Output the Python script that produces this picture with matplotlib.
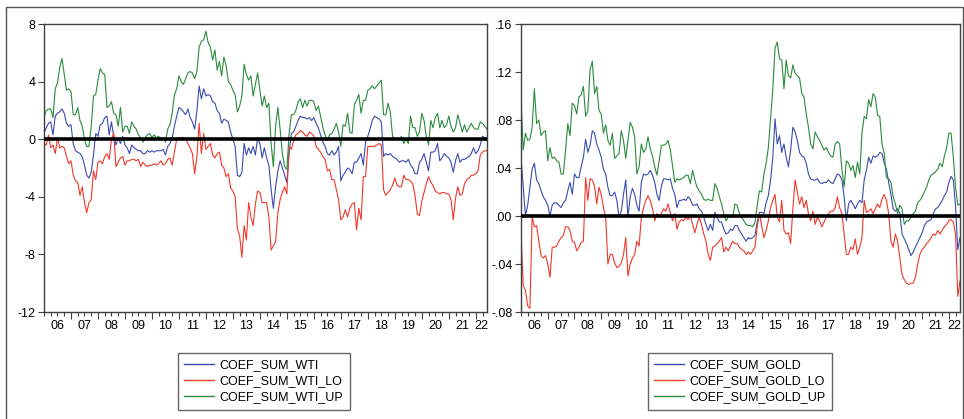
import numpy as np
import matplotlib
matplotlib.use("Agg")
from matplotlib import pyplot as plt
from matplotlib.lines import Line2D
from matplotlib.patches import Rectangle

plt.rcParams['font.family'] = ['Liberation Sans', 'DejaVu Sans']

start_year = 2006
year_labels = ["06", "07", "08", "09", "10", "11", "12", "13", "14",
               "15", "16", "17", "18", "19", "20", "21", "22"]

# monthly, 2006M01 - 2022M06
coef_sum_wti = (
    [0.4, 0.8, 1.1, 1.2, 0.3, 1.6, 1.8, 1.9, 2.1, 1.8, 1.1, 0.9] +
    [1.0, -0.3, -0.8, -0.9, -1.0, -1.2, -1.8, -2.5, -2.7, -2.3, -1.1, 0.4] +
    [0.2, 1.0, 1.1, 1.5, 1.6, 0.3, 1.2, 0.2, -0.4, 0.1, -0.3, 0.2] +
    [-0.4, -0.6, -1.0, -0.4, -0.6, -0.7, -0.8, -0.8, -1.0, -1.0, -0.8, -0.9] +
    [-0.8, -0.9, -0.8, -0.8, -0.8, -0.7, -1.1, -0.5, -0.3, 0.1, 0.9, 1.6] +
    [2.2, 2.1, 1.9, 1.7, 2.1, 1.5, 1.2, 0.7, 2.0, 3.7, 2.8, 3.5] +
    [3.0, 3.1, 3.0, 2.6, 2.5, 2.0, 1.8, 1.1, 1.4, 1.3, 1.2, 0.5] +
    [0.0, -0.5, -2.5, -2.6, -2.3, -0.3, -1.1, -0.6, -1.0, -0.5, -1.1, 0.1] +
    [-0.3, -1.3, -0.6, -1.3, -1.8, -3.5, -4.8, -3.3, -2.2, -1.5, -2.0, -2.5] +
    [-3.0, -1.0, 0.4, 0.5, 0.9, 1.3, 1.6, 1.5, 1.5, 1.4, 1.5, 1.3] +
    [1.5, 1.1, 0.8, 0.3, -0.2, -0.5, -1.0, -1.1, -0.8, -1.1, -0.9, -0.5] +
    [-2.9, -2.5, -2.3, -2.0, -2.1, -2.4, -1.6, -1.6, -1.3, -1.0, -1.8, -0.2] +
    [0.2, 0.7, 1.3, 1.6, 1.5, 1.4, 1.2, -1.2, -1.0, -1.1, -1.0, -1.2] +
    [-1.3, -1.4, -1.6, -1.5, -1.5, -1.6, -1.4, -1.8, -2.0, -2.4, -2.4, -1.6] +
    [-1.4, -1.0, -1.6, -2.2, -0.9, -0.9, -0.8, -0.3, -1.5, -1.3, -1.0, -1.2] +
    [-1.3, -1.6, -2.3, -1.5, -1.0, -1.6, -1.4, -1.4, -1.3, -1.2, -1.0, -0.6] +
    [-1.0, -0.8, -0.4, 0.2, 0.1, -0.1]
)

coef_sum_wti_lo = (
    [-0.3, -0.4, 0.3, -0.6, -0.4, -1.0, 0.1, -0.6, -0.5, -0.6, -1.2, -1.7] +
    [-1.5, -2.5, -2.9, -3.0, -3.9, -3.3, -4.4, -5.1, -4.4, -4.2, -2.2, -2.8] +
    [-1.6, -1.5, -1.7, -1.2, -1.0, -1.4, 0.0, 0.4, -1.9, -1.6, -1.3, -1.2] +
    [-1.8, -1.5, -1.5, -1.4, -1.4, -1.5, -1.4, -1.9, -1.6, -1.8, -1.9, -1.8] +
    [-1.8, -1.7, -1.8, -1.7, -1.5, -1.8, -1.7, -1.4, -1.3, -1.8, -0.9, 0.0] +
    [0.1, 0.1, 0.1, 0.0, -0.3, -0.6, -1.0, -2.4, -1.2, 1.1, -1.0, 0.4] +
    [-0.7, -0.5, -0.3, -1.1, -1.3, -1.0, -0.9, -1.8, -2.0, -2.6, -2.4, -3.4] +
    [-3.6, -4.0, -6.2, -6.7, -8.2, -6.0, -7.0, -4.4, -5.4, -6.0, -4.5, -3.6] +
    [-3.7, -4.4, -4.4, -4.4, -5.4, -7.7, -7.4, -7.1, -5.1, -4.2, -3.7, -3.3] +
    [-3.8, -0.5, -0.7, -0.1, 0.3, 0.4, 0.6, 0.5, 0.3, 0.2, 0.5, 0.4] +
    [0.2, -0.5, -0.7, -0.9, -1.2, -1.4, -2.2, -2.1, -2.8, -2.8, -3.5, -4.2] +
    [-5.6, -5.4, -4.9, -5.4, -4.8, -4.5, -4.4, -6.3, -4.8, -5.6, -2.6, -2.6] +
    [-0.5, -0.5, -0.5, -0.5, -0.4, -0.3, -0.4, -3.5, -3.9, -3.7, -3.5, -3.2] +
    [-2.7, -3.2, -3.3, -3.3, -2.5, -2.8, -2.8, -2.9, -3.1, -3.9, -5.2, -5.3] +
    [-4.3, -3.7, -3.1, -2.6, -3.0, -3.2, -3.6, -3.7, -3.8, -3.7, -3.7, -3.8] +
    [-3.8, -4.2, -5.6, -4.1, -3.3, -3.9, -3.8, -3.1, -2.8, -2.7, -2.5, -2.5] +
    [-2.4, -2.2, -1.1, -0.9, -0.8, -0.8]
)

coef_sum_wti_up = (
    [1.5, 2.0, 2.1, 2.1, 1.5, 3.5, 3.9, 5.0, 5.6, 4.5, 3.4, 3.5] +
    [3.3, 1.7, 1.7, 2.2, 1.3, 0.9, 0.0, -0.5, -0.5, 0.9, 3.0, 3.1] +
    [4.1, 4.9, 4.6, 4.5, 2.2, 2.3, 2.6, 1.8, 1.7, 0.9, 2.2, 0.5] +
    [0.9, 0.9, 0.4, 1.2, 0.9, 0.7, 0.3, 0.1, -0.2, 0.1, 0.3, 0.4] +
    [0.1, 0.3, 0.1, 0.2, 0.0, 0.1, -0.2, 0.7, 1.0, 1.8, 3.1, 3.5] +
    [4.4, 4.0, 3.8, 4.2, 4.6, 4.7, 4.6, 4.2, 4.7, 6.4, 6.8, 6.9] +
    [7.5, 6.7, 6.4, 5.5, 6.2, 4.8, 5.4, 4.4, 5.7, 5.1, 4.0, 3.8] +
    [3.4, 3.1, 1.9, 2.3, 3.0, 5.2, 4.5, 4.1, 4.4, 3.0, 3.8, 4.6] +
    [3.4, 2.3, 3.0, 2.2, 2.5, -0.3, -1.9, 0.9, 2.2, 0.7, -1.0, -1.9] +
    [-2.1, 0.4, 1.7, 1.7, 2.0, 2.6, 2.8, 2.2, 2.7, 2.3, 2.7, 2.7] +
    [2.6, 2.0, 2.3, 1.6, 0.8, 0.3, -0.1, 0.3, 0.4, 0.7, 1.1, 0.5] +
    [-0.5, 1.0, 0.9, 1.8, 0.5, 0.4, 2.4, 2.7, 3.1, 1.8, 2.7, 2.7] +
    [3.4, 3.5, 3.7, 3.5, 3.7, 3.9, 4.1, 1.7, 1.7, 2.5, 1.9, 0.2] +
    [0.0, 0.0, 0.0, 0.2, -0.3, 0.0, -0.3, 1.6, 0.8, 0.8, 0.2, 0.5] +
    [1.8, 1.3, 0.2, -0.4, 1.3, 0.8, 1.5, 1.8, 0.8, 1.3, 0.8, 1.0] +
    [1.6, 0.9, 0.5, 0.8, 1.7, 1.1, 0.5, 1.0, 0.5, 0.8, 1.1, 0.8] +
    [0.7, 0.7, 1.2, 1.1, 0.9, 0.7]
)

coef_sum_gold = (
    [0.049, 0.024, 0.000, 0.009, 0.024, 0.039, 0.044, 0.030, 0.027, 0.021, 0.016, 0.013] +
    [0.009, 0.000, 0.009, 0.011, 0.011, 0.009, 0.007, 0.011, 0.013, 0.021, 0.028, 0.018] +
    [0.035, 0.032, 0.032, 0.041, 0.049, 0.064, 0.053, 0.059, 0.071, 0.069, 0.060, 0.055] +
    [0.049, 0.039, 0.035, 0.024, 0.017, 0.017, 0.020, 0.013, -0.001, 0.004, 0.018, 0.030] +
    [-0.001, 0.016, 0.023, 0.018, 0.009, 0.004, 0.028, 0.035, 0.034, 0.035, 0.038, 0.034] +
    [0.028, 0.018, 0.013, 0.025, 0.031, 0.031, 0.030, 0.031, 0.023, 0.018, 0.007, 0.013] +
    [0.013, 0.014, 0.013, 0.016, 0.014, 0.009, 0.009, 0.010, 0.006, 0.004, -0.001, -0.007] +
    [-0.012, -0.007, -0.012, 0.003, -0.001, -0.005, -0.005, -0.011, -0.015, -0.014, -0.011, -0.012] +
    [-0.008, -0.008, -0.012, -0.015, -0.018, -0.021, -0.018, -0.019, -0.018, -0.016, -0.005, 0.003] +
    [0.003, 0.002, 0.011, 0.017, 0.030, 0.049, 0.081, 0.060, 0.067, 0.053, 0.060, 0.049] +
    [0.041, 0.055, 0.074, 0.070, 0.063, 0.053, 0.050, 0.049, 0.044, 0.035, 0.031, 0.030] +
    [0.030, 0.031, 0.028, 0.027, 0.028, 0.028, 0.030, 0.028, 0.027, 0.031, 0.035, 0.034] +
    [0.030, 0.016, -0.004, 0.010, 0.013, 0.010, 0.006, 0.010, 0.013, 0.011, 0.030, 0.038] +
    [0.049, 0.044, 0.050, 0.049, 0.050, 0.053, 0.052, 0.044, 0.039, 0.028, 0.018, 0.006] +
    [0.004, 0.006, 0.002, -0.015, -0.019, -0.023, -0.028, -0.033, -0.030, -0.026, -0.022, -0.018] +
    [-0.014, -0.008, -0.005, -0.004, -0.003, 0.002, 0.006, 0.007, 0.010, 0.013, 0.017, 0.020] +
    [0.028, 0.033, 0.030, 0.008, -0.028, -0.018]
)

coef_sum_gold_lo = (
    [-0.014, -0.058, -0.062, -0.075, -0.077, -0.001, -0.009, -0.008, -0.021, -0.033, -0.035, -0.033] +
    [-0.040, -0.051, -0.026, -0.026, -0.025, -0.021, -0.018, -0.016, -0.009, -0.009, -0.012, -0.021] +
    [-0.022, -0.029, -0.026, -0.022, -0.021, 0.032, 0.013, 0.031, 0.030, 0.025, 0.010, 0.024] +
    [0.018, 0.007, -0.001, -0.040, -0.032, -0.032, -0.039, -0.043, -0.042, -0.039, -0.032, -0.018] +
    [-0.050, -0.040, -0.035, -0.032, -0.021, -0.025, -0.001, 0.007, 0.013, 0.017, 0.013, 0.006] +
    [-0.004, 0.002, -0.001, 0.002, 0.006, 0.004, 0.010, 0.003, -0.004, 0.002, -0.011, -0.005] +
    [-0.003, -0.004, -0.001, -0.003, 0.000, -0.007, -0.014, -0.007, -0.001, -0.007, -0.015, -0.021] +
    [-0.032, -0.037, -0.026, -0.025, -0.023, -0.021, -0.018, -0.030, -0.026, -0.029, -0.025, -0.021] +
    [-0.023, -0.023, -0.026, -0.028, -0.029, -0.032, -0.030, -0.032, -0.029, -0.026, -0.009, 0.002] +
    [-0.008, -0.018, -0.012, -0.004, 0.007, 0.013, 0.018, -0.001, -0.005, 0.013, -0.012, -0.015] +
    [-0.014, -0.023, 0.006, 0.030, 0.020, 0.010, 0.016, 0.007, 0.013, 0.002, -0.004, 0.004] +
    [-0.007, -0.001, -0.004, -0.009, -0.005, -0.001, 0.002, 0.004, 0.004, 0.007, 0.016, 0.007] +
    [0.002, -0.015, -0.032, -0.032, -0.026, -0.028, -0.019, -0.032, -0.026, -0.018, 0.013, 0.003] +
    [0.004, 0.006, 0.002, 0.006, 0.010, 0.007, 0.014, 0.018, 0.013, 0.002, -0.021, -0.026] +
    [-0.015, -0.021, -0.035, -0.049, -0.053, -0.056, -0.057, -0.056, -0.056, -0.051, -0.040, -0.032] +
    [-0.028, -0.026, -0.023, -0.021, -0.018, -0.015, -0.016, -0.012, -0.015, -0.012, -0.009, -0.007] +
    [-0.004, -0.003, -0.005, -0.015, -0.067, -0.054]
)

coef_sum_gold_up = (
    [0.098, 0.055, 0.069, 0.063, 0.064, 0.074, 0.106, 0.077, 0.080, 0.067, 0.070, 0.071] +
    [0.046, 0.057, 0.048, 0.049, 0.046, 0.045, 0.035, 0.035, 0.055, 0.077, 0.067, 0.094] +
    [0.092, 0.085, 0.099, 0.101, 0.108, 0.083, 0.088, 0.122, 0.129, 0.102, 0.108, 0.088] +
    [0.085, 0.069, 0.076, 0.063, 0.059, 0.069, 0.048, 0.050, 0.052, 0.071, 0.063, 0.048] +
    [0.063, 0.078, 0.074, 0.066, 0.035, 0.041, 0.060, 0.053, 0.056, 0.066, 0.056, 0.050] +
    [0.041, 0.034, 0.046, 0.059, 0.059, 0.060, 0.063, 0.055, 0.042, 0.028, 0.031, 0.030] +
    [0.031, 0.032, 0.034, 0.034, 0.027, 0.038, 0.030, 0.024, 0.021, 0.018, 0.014, 0.013] +
    [0.014, 0.013, 0.013, 0.027, 0.023, 0.016, 0.010, 0.002, -0.004, -0.001, 0.000, -0.001] +
    [0.010, 0.009, 0.002, -0.001, -0.004, -0.007, -0.008, -0.008, -0.009, -0.005, 0.009, 0.021] +
    [0.020, 0.035, 0.044, 0.057, 0.081, 0.106, 0.140, 0.145, 0.131, 0.130, 0.106, 0.130] +
    [0.117, 0.115, 0.126, 0.119, 0.117, 0.115, 0.102, 0.099, 0.085, 0.074, 0.060, 0.056] +
    [0.070, 0.066, 0.063, 0.059, 0.055, 0.057, 0.053, 0.050, 0.049, 0.060, 0.062, 0.060] +
    [0.039, 0.024, 0.046, 0.044, 0.038, 0.042, 0.032, 0.045, 0.035, 0.069, 0.083, 0.081] +
    [0.097, 0.091, 0.102, 0.099, 0.084, 0.083, 0.060, 0.052, 0.032, 0.031, 0.028, 0.016] +
    [0.010, 0.002, 0.009, 0.006, -0.007, -0.004, -0.004, -0.001, 0.002, 0.004, 0.011, 0.013] +
    [0.016, 0.020, 0.024, 0.030, 0.034, 0.035, 0.037, 0.039, 0.044, 0.041, 0.050, 0.057] +
    [0.069, 0.069, 0.049, 0.024, 0.009, 0.010]
)

BLUE = "#3a4bb0"
RED = "#f0382b"
GREEN = "#2b8a3e"
FRAME = "#404040"

W, H = 964, 419
fig = plt.figure(figsize=(W / 100, H / 100), dpi=100)

# outer frame (bottom edge runs off the picture)
fig.patches.append(Rectangle((6 / W, -5 / H), 957 / W, 417 / H, transform=fig.transFigure,
                             fill=False, edgecolor="#555555", linewidth=1.0))


def px_axes(x0, y0, x1, y1):
    return fig.add_axes([x0 / W, 1 - y1 / H, (x1 - x0) / W, (y1 - y0) / H])


def panel(ax, mid, lo, up, ylim, yticks, ylabels, names, leg_x):
    n = len(mid)
    t = start_year + np.arange(n) / 12.0
    ax.plot(t, mid, color=BLUE, lw=0.8)
    ax.plot(t, lo, color=RED, lw=0.8)
    ax.plot(t, up, color=GREEN, lw=0.8)
    ax.axhline(0, color="black", lw=2.6, zorder=4)

    ax.set_xlim(t[0], t[-1])
    ax.set_ylim(*ylim)
    ax.set_yticks(yticks)
    ax.set_yticklabels(ylabels, fontsize=9)

    ax.set_xticks(np.arange(start_year + 1, t[-1] + 0.001, 1.0))
    ax.set_xticks(np.arange(start_year, t[-1] + 0.001, 0.25), minor=True)
    ax.set_xticklabels([])
    ax.tick_params(axis="x", which="major", direction="out", length=5, width=0.8, color=FRAME)
    ax.tick_params(axis="x", which="minor", direction="out", length=3, width=0.8, color=FRAME)
    ax.tick_params(axis="y", direction="out", length=4, width=0.8, color=FRAME, pad=2)
    for s in ax.spines.values():
        s.set_color(FRAME)
        s.set_linewidth(1.0)

    for i, lbl in enumerate(year_labels):
        a = start_year + i
        b = min(a + 1, t[-1])
        ax.annotate(lbl, xy=((a + b) / 2, 0), xycoords=("data", "axes fraction"),
                    xytext=(0, -8), textcoords="offset pixels",
                    ha="center", va="top", fontsize=9)

    handles = [Line2D([], [], color=c, lw=1.0) for c in (BLUE, RED, GREEN)]
    ax.legend(handles, names, loc="upper left", bbox_to_anchor=(leg_x / W, 1 - 353 / H),
              bbox_transform=fig.transFigure, fontsize=9, frameon=True, fancybox=False,
              edgecolor="#666666", framealpha=1, borderaxespad=0, handlelength=2.4,
              handletextpad=0.45, labelspacing=0.33, borderpad=0.5)


ax1 = px_axes(44, 24, 487, 312)
panel(ax1, coef_sum_wti, coef_sum_wti_lo, coef_sum_wti_up, (-12, 8),
      [-12, -8, -4, 0, 4, 8], ["-12", "-8", "-4", "0", "4", "8"],
      ["COEF_SUM_WTI", "COEF_SUM_WTI_LO", "COEF_SUM_WTI_UP"], 178)

ax2 = px_axes(521, 24, 960, 312)
panel(ax2, coef_sum_gold, coef_sum_gold_lo, coef_sum_gold_up, (-0.08, 0.16),
      [-0.08, -0.04, 0.0, 0.04, 0.08, 0.12, 0.16],
      ["-.08", "-.04", ".00", ".04", ".08", ".12", ".16"],
      ["COEF_SUM_GOLD", "COEF_SUM_GOLD_LO", "COEF_SUM_GOLD_UP"], 648)

fig.savefig("out.png", dpi=100)
plt.close(fig)
